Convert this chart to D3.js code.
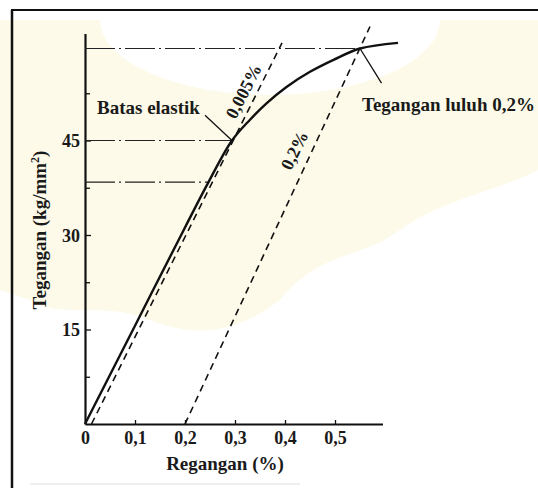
<!DOCTYPE html>
<html>
<head>
<meta charset="utf-8">
<script src="https://cdn.jsdelivr.net/npm/d3@7"></script>
<style>
  body { margin: 0; background: #fff; }
  svg { display: block; }
  text { font-family: "Liberation Serif", "Times New Roman", serif; font-weight: bold; fill: #1a1a1a; }
</style>
</head>
<body>
<div id="chart"></div>
<script>
// stress-strain curve (regangan %, tegangan kg/mm2)
const strain = [0, 0.1, 0.2, 0.247, 0.294, 0.33, 0.363, 0.403, 0.45, 0.497, 0.55, 0.626];
const stress = [0, 15.6, 31.2, 38.4, 45.0, 48.3, 50.9, 53.5, 55.9, 57.8, 59.6, 60.5];

// offset lines
const offset005Strain = [0.013, 0.394];
const offset005Stress = [0, 60.5];
const offset02Strain = [0.2, 0.57];
const offset02Stress = [0, 63.1];

// dash-dot reference lines
const refStrain = [0.55, 0.294, 0.247];
const refStress = [59.6, 45, 38.4];

const xTicks = [0, 0.1, 0.2, 0.3, 0.4, 0.5];
const yTicks = [15, 30, 45];
const yMinorTicks = [7.5, 22.5, 37.5, 52.5];

const elasticPoint = [0.294, 45];
const elasticLeaderEnd = [0.24, 49.0];
const yieldPoint = [0.55, 59.6];
const yieldLeaderEnd = [0.593, 54.1];

const W = 538, H = 488;
const fmt = d => String(d).replace('.', ',');

const svg = d3.select('#chart').append('svg')
  .attr('width', W)
  .attr('height', H);

// faint scan watermark tint
svg.append('path')
  .attr('d', 'M0,20 L538,20 L538,170 C500,190 440,200 400,230 C360,260 320,250 280,300 C240,330 200,340 150,320 C100,300 60,320 30,300 L0,290 Z')
  .attr('fill', '#fcf8df')
  .attr('opacity', 0.7);
svg.append('ellipse')
  .attr('cx', 270).attr('cy', 20)
  .attr('rx', 170).attr('ry', 75)
  .attr('fill', '#fff');

// frame
svg.append('line')
  .attr('x1', 12).attr('y1', 10).attr('x2', 12).attr('y2', H)
  .attr('stroke', '#111').attr('stroke-width', 2.5);
svg.append('line')
  .attr('x1', 11).attr('y1', 10).attr('x2', W).attr('y2', 10)
  .attr('stroke', '#111').attr('stroke-width', 2);
svg.append('line')
  .attr('x1', 30).attr('y1', 484).attr('x2', 300).attr('y2', 484)
  .attr('stroke', '#ddd').attr('stroke-width', 1);

const x = d3.scaleLinear().domain([0, 0.595]).range([85, 382.5]);
const y = d3.scaleLinear().domain([0, 62]).range([424, 33.4]);

// axes
const xAxis = svg.append('g')
  .attr('transform', `translate(0,${y(0)})`)
  .call(d3.axisBottom(x).tickValues(xTicks).tickSize(-4).tickSizeOuter(0).tickPadding(7).tickFormat(fmt));
const yAxis = svg.append('g')
  .attr('transform', `translate(${x(0)},0)`)
  .call(d3.axisLeft(y).tickValues(yTicks).tickSize(-6).tickSizeOuter(0).tickPadding(5).tickFormat(fmt));

svg.append('g')
  .attr('transform', `translate(${x(0)},0)`)
  .call(d3.axisLeft(y).tickValues(yMinorTicks).tickSize(-5).tickFormat(''))
  .call(g => g.select('.domain').remove());

svg.selectAll('.domain').attr('stroke', '#111').attr('stroke-width', 2.2);
svg.selectAll('.tick line').attr('stroke', '#111').attr('stroke-width', 1.3);
xAxis.selectAll('.tick:first-of-type line').remove();
svg.selectAll('.tick text')
  .attr('font-size', 18)
  .style('font-family', '"Liberation Serif", serif')
  .style('font-weight', 'bold')
  .attr('fill', '#1a1a1a');
yAxis.selectAll('.tick text').attr('dy', '0.35em');

// axis titles
svg.append('text')
  .attr('x', 225)
  .attr('y', 470)
  .attr('text-anchor', 'middle')
  .attr('font-size', 19)
  .text('Regangan (%)');

const yTitle = svg.append('text')
  .attr('transform', 'translate(46,230) rotate(-90)')
  .attr('text-anchor', 'middle')
  .attr('font-size', 19);
yTitle.append('tspan').text('Tegangan (kg/mm');
yTitle.append('tspan').attr('font-size', 12).attr('baseline-shift', 'super').text('2');
yTitle.append('tspan').text(')');

// reference dash-dot lines
svg.append('g')
  .selectAll('line')
  .data(refStress)
  .enter()
  .append('line')
  .attr('x1', x(0))
  .attr('x2', (d, i) => x(refStrain[i]))
  .attr('y1', d => y(d))
  .attr('y2', d => y(d))
  .attr('stroke', '#222')
  .attr('stroke-width', 1.2)
  .attr('stroke-dasharray', '30,4,2,4');

// offset lines
const line = d3.line().x(d => x(d[0])).y(d => y(d[1]));
svg.append('path')
  .attr('d', line(d3.zip(offset005Strain, offset005Stress)))
  .attr('fill', 'none')
  .attr('stroke', '#111')
  .attr('stroke-width', 1.6)
  .attr('stroke-dasharray', '7,5');
svg.append('path')
  .attr('d', line(d3.zip(offset02Strain, offset02Stress)))
  .attr('fill', 'none')
  .attr('stroke', '#111')
  .attr('stroke-width', 1.6)
  .attr('stroke-dasharray', '7,5');

// main curve
const curve = d3.line().x(d => x(d[0])).y(d => y(d[1])).curve(d3.curveCatmullRom.alpha(0.5));
svg.append('path')
  .attr('d', curve(d3.zip(strain, stress)))
  .attr('fill', 'none')
  .attr('stroke', '#111')
  .attr('stroke-width', 2.4);

// leaders
svg.append('path')
  .attr('d', line([elasticLeaderEnd, elasticPoint]))
  .attr('stroke', '#111').attr('stroke-width', 1.3).attr('fill', 'none');
svg.append('path')
  .attr('d', line([yieldPoint, yieldLeaderEnd]))
  .attr('stroke', '#111').attr('stroke-width', 1.3).attr('fill', 'none');

// labels
svg.append('text')
  .attr('x', 97).attr('y', 114)
  .attr('font-size', 19)
  .text('Batas elastik');
svg.append('text')
  .attr('x', 362).attr('y', 111)
  .attr('font-size', 19)
  .text('Tegangan luluh 0,2%');
svg.append('text')
  .attr('transform', 'translate(249,94) rotate(-63)')
  .attr('text-anchor', 'middle')
  .attr('font-size', 18)
  .text('0,005%');
svg.append('text')
  .attr('transform', 'translate(300,153) rotate(-64)')
  .attr('text-anchor', 'middle')
  .attr('font-size', 18)
  .text('0,2%');
</script>
</body>
</html>
